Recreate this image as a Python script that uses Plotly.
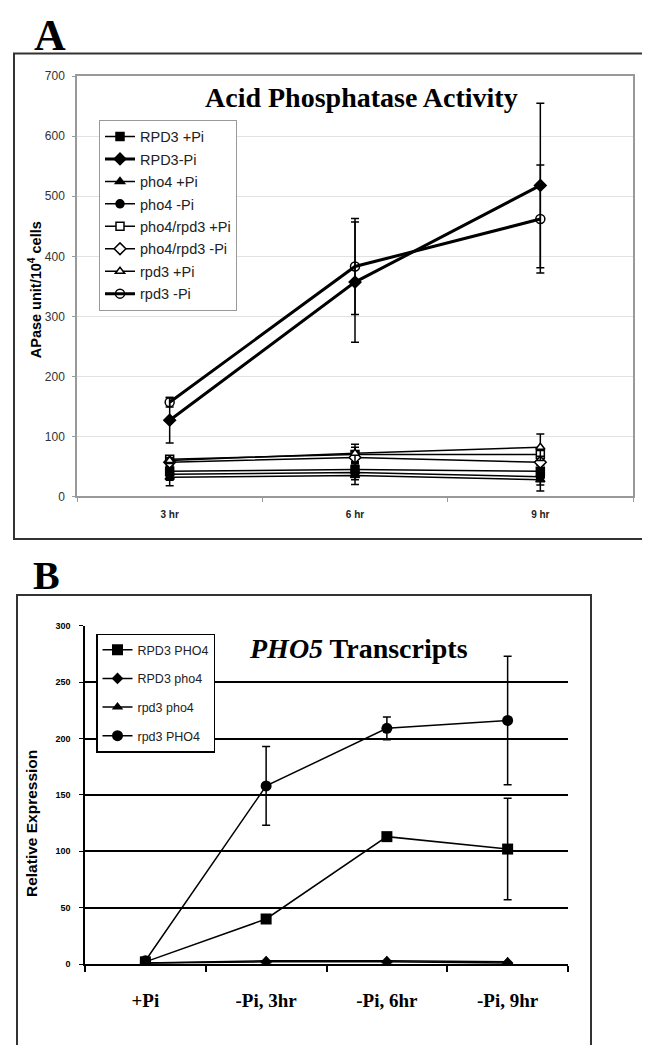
import plotly.graph_objects as go

# ---------------- Panel A data ----------------
a_cats = ["3 hr", "6 hr", "9 hr"]
a_names = ["RPD3 +Pi", "RPD3-Pi", "pho4 +Pi", "pho4 -Pi",
           "pho4/rpd3 +Pi", "pho4/rpd3 -Pi", "rpd3 +Pi", "rpd3 -Pi"]
a_RPD3_pPi = [42, 45, 42]
a_RPD3_pPi_err = [8, 10, 10]
a_RPD3_mPi = [127, 357, 518]
a_RPD3_mPi_err = [38, 100, 137]
a_pho4_pPi = [32, 35, 28]
a_pho4_pPi_err = [14, 15, 19]
a_pho4_mPi = [37, 40, 33]
a_pho4_mPi_err = [10, 12, 14]
a_pho4rpd3_pPi = [62, 70, 70]
a_pho4rpd3_pPi_err = [5, 12, 10]
a_pho4rpd3_mPi = [57, 65, 57]
a_pho4rpd3_mPi_err = [5, 10, 10]
a_rpd3_pPi = [60, 72, 82]
a_rpd3_pPi_err = [5, 15, 22]
a_rpd3_mPi = [157, 383, 462]
a_rpd3_mPi_err = [8, 80, 90]

# ---------------- Panel B data ----------------
b_cats = ["+Pi", "-Pi, 3hr", "-Pi, 6hr", "-Pi, 9hr"]
b_names = ["RPD3 PHO4", "RPD3 pho4", "rpd3 pho4", "rpd3 PHO4"]
b_RPD3_PHO4 = [2, 40, 113, 102]
b_RPD3_PHO4_err = [0, 0, 0, 45]
b_RPD3_pho4 = [1, 2, 2, 1]
b_RPD3_pho4_err = [0, 0, 0, 0]
b_rpd3_pho4 = [1, 3, 3, 2]
b_rpd3_pho4_err = [0, 0, 0, 0]
b_rpd3_PHO4 = [3, 158, 209, 216]
b_rpd3_PHO4_err = [0, 35, 10, 57]

W, H = 650, 1045
OFF = 8  # page body margin compensation

def px(x):
    return (x - OFF) / W

def py(y):
    return (H - (y - OFF)) / H

SANS = "Liberation Sans, Arial, sans-serif"
SERIF = "Liberation Serif, Times New Roman, serif"

fig = go.Figure()

a_series = [
    (a_RPD3_pPi, a_RPD3_pPi_err, "square", "black", 1.5, 8),
    (a_RPD3_mPi, a_RPD3_mPi_err, "diamond", "black", 3, 9),
    (a_pho4_pPi, a_pho4_pPi_err, "triangle-up", "black", 1.5, 8),
    (a_pho4_mPi, a_pho4_mPi_err, "circle", "black", 1.5, 8),
    (a_pho4rpd3_pPi, a_pho4rpd3_pPi_err, "square", "white", 1.5, 8),
    (a_pho4rpd3_mPi, a_pho4rpd3_mPi_err, "diamond", "white", 1.5, 9),
    (a_rpd3_pPi, a_rpd3_pPi_err, "triangle-up", "white", 1.5, 8),
    (a_rpd3_mPi, a_rpd3_mPi_err, "circle-open", "black", 3, 9),
]
for name, (vals, err, sym, fill, lw, ms) in zip(a_names, a_series):
    fig.add_trace(go.Scatter(
        x=a_cats, y=vals, name=name, legendgroup=name, legend="legend",
        mode="lines+markers", xaxis="x", yaxis="y",
        line=dict(color="black", width=lw),
        marker=dict(symbol=sym, size=ms, color=fill,
                    line=dict(color="black", width=1.5)),
        error_y=dict(type="data", array=err, visible=True, color="black",
                     thickness=1.5, width=4),
    ))

b_series = [
    (b_RPD3_PHO4, b_RPD3_PHO4_err, "square", 11),
    (b_RPD3_pho4, b_RPD3_pho4_err, "diamond", 9),
    (b_rpd3_pho4, b_rpd3_pho4_err, "triangle-up", 10),
    (b_rpd3_PHO4, b_rpd3_PHO4_err, "circle", 11),
]
for name, (vals, err, sym, ms) in zip(b_names, b_series):
    fig.add_trace(go.Scatter(
        x=b_cats, y=vals, name=name, legendgroup=name, legend="legend2",
        mode="lines+markers", xaxis="x2", yaxis="y2",
        line=dict(color="black", width=1.5),
        marker=dict(symbol=sym, size=ms, color="black"),
        error_y=dict(type="data", array=err, visible=True, color="black",
                     thickness=1.5, width=4),
    ))

fig.update_layout(
    width=W, height=H, autosize=False,
    margin=dict(l=0, r=0, t=0, b=0),
    paper_bgcolor="white", plot_bgcolor="white",
    font=dict(family=SANS, color="black"),
    xaxis=dict(domain=[px(77), px(633)], anchor="y", type="category",
               range=[-0.5, 2.5], showline=True, linecolor="#999",
               linewidth=1.5, mirror=True, showgrid=False,
               ticks="outside", tickson="boundaries", ticklen=4,
               tickcolor="#999",
               tickfont=dict(family=SANS, size=10, color="#222", weight="bold"),
               ticklabelstandoff=8),
    yaxis=dict(domain=[py(496), py(70)], anchor="x", range=[0, 700],
               dtick=100, showgrid=True, gridcolor="#e2e2e2", gridwidth=1,
               showline=True, linecolor="#999", linewidth=1.5, mirror=True,
               zeroline=False, ticks="outside", ticklen=3, tickcolor="#999",
               tickfont=dict(family=SANS, size=12, color="#333"),
               ticklabelstandoff=5),
    xaxis2=dict(domain=[px(85), px(568)], anchor="y2", type="category",
                range=[-0.5, 3.5], showline=True, linecolor="black",
                linewidth=2, showgrid=False, ticks="outside",
                tickson="boundaries", ticklen=6, tickcolor="black",
                tickwidth=1.5,
                tickfont=dict(family=SERIF, size=19, color="black",
                              weight="bold"),
                ticklabelstandoff=18),
    yaxis2=dict(domain=[py(970), py(627)], anchor="x2", range=[0, 300],
                dtick=50, showgrid=True, gridcolor="black", gridwidth=1.5,
                showline=True, linecolor="black", linewidth=1.5,
                zeroline=False, ticks="outside", ticklen=4,
                tickcolor="black",
                tickfont=dict(family=SANS, size=9, color="black",
                              weight="bold"),
                ticklabelstandoff=7),
    legend=dict(x=px(99), y=py(114), xanchor="left", yanchor="top",
                xref="paper", yref="paper",
                bgcolor="white", bordercolor="#999", borderwidth=1,
                font=dict(family=SANS, size=14.5, color="#222"),
                traceorder="grouped", tracegroupgap=0.6,
                itemsizing="trace"),
    legend2=dict(x=px(96), y=py(635), xanchor="left", yanchor="top",
                 xref="paper", yref="paper",
                 bgcolor="white", bordercolor="black", borderwidth=1.5,
                 font=dict(family=SANS, size=12.5, color="#222"),
                 traceorder="grouped", tracegroupgap=9.4,
                 itemsizing="trace"),
    showlegend=True,
)

shapes = [
    dict(type="rect", xref="paper", yref="paper",
         x0=px(14), x1=px(647), y0=py(539), y1=py(47),
         line=dict(color="#333", width=2), layer="below"),
    dict(type="rect", xref="paper", yref="paper",
         x0=px(17), x1=px(591), y0=-0.05, y1=py(596),
         line=dict(color="#333", width=2), layer="below"),
]
fig.update_layout(shapes=shapes)

annotations = [
    dict(text="A", x=px(50), y=py(29), xref="paper", yref="paper",
         showarrow=False, xanchor="center", yanchor="middle",
         font=dict(family=SERIF, size=44, color="black", weight="bold")),
    dict(text="B", x=px(46), y=py(576), xref="paper", yref="paper",
         showarrow=False, xanchor="center", yanchor="middle",
         font=dict(family=SERIF, size=40, color="black", weight="bold")),
    dict(text="Acid Phosphatase Activity", x=px(361), y=py(92),
         xref="paper", yref="paper", showarrow=False,
         xanchor="center", yanchor="middle",
         font=dict(family=SERIF, size=28, color="black", weight="bold")),
    dict(text="<i>PHO5</i> Transcripts", x=px(358), y=py(650),
         xref="paper", yref="paper", showarrow=False,
         xanchor="center", yanchor="middle",
         font=dict(family=SERIF, size=28, color="black", weight="bold")),
    dict(text="APase unit/10<sup>4</sup> cells", x=px(35), y=py(287),
         xref="paper", yref="paper", showarrow=False, textangle=-90,
         xanchor="center", yanchor="middle",
         font=dict(family=SANS, size=14.5, color="black", weight="bold")),
    dict(text="Relative Expression", x=px(31), y=py(828),
         xref="paper", yref="paper", showarrow=False, textangle=-90,
         xanchor="center", yanchor="middle",
         font=dict(family=SANS, size=15.5, color="black", weight="bold")),
]
fig.update_layout(annotations=annotations)

fig.write_html("out.html")
